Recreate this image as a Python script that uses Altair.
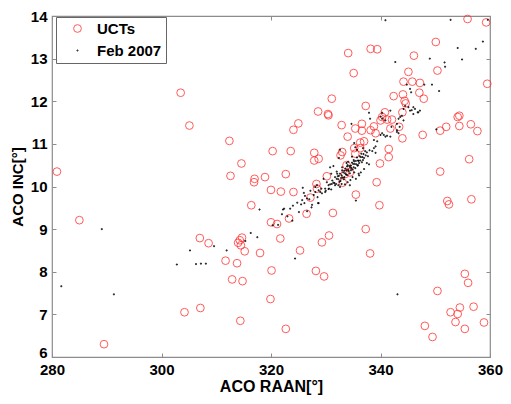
import altair as alt
import pandas as pd

# UCTs (red open circles): RAAN, INC
uct_raan = [280.9, 285.0, 289.5, 303.5, 305.1, 312.4, 314.6, 312.6, 317.0, 316.9,
            318.9, 320.0, 320.3, 321.8, 322.7, 316.4, 320.0, 321.1, 307.0, 308.6,
            311.7, 313.8, 314.0, 314.3, 314.7, 314.5, 315.2, 318.0, 320.1, 312.9,
            314.8, 304.2, 307.1, 314.4, 319.9, 324.1, 327.2, 335.5, 339.8, 352.5,
            356.6, 326.5, 331.3, 323.3, 321.7, 330.6, 329.3, 325.3, 337.3, 338.1,
            328.2, 329.7, 322.7, 348.1, 349.5, 350.4, 355.4, 356.0, 354.5, 352.8,
            354.1, 353.7, 357.0, 355.4, 358.9, 355.9, 359.3, 350.1, 346.1, 334.1,
            338.2, 339.4, 335.1, 345.1, 350.4, 359.5, 344.2, 345.8, 347.2, 342.4,
            344.1, 347.1, 347.9, 331.1, 344.6, 337.3, 328.6, 330.4, 330.5, 325.0,
            324.1, 344.0, 354.4, 354.1, 356.5, 357.7, 350.9, 352.0, 354.4, 347.7,
            332.9, 335.4, 336.6, 336.6, 334.0, 340.0, 341.2, 342.1, 338.8, 341.8,
            343.4, 344.0, 338.2, 339.1, 336.3, 337.0, 323.6, 327.9, 327.9, 328.7,
            333.0, 332.7, 341.5, 341.5, 339.9, 356.2, 350.9, 330.2, 333.8, 333.5,
            334.4, 328.3, 328.4, 339.3, 352.2, 340.8, 340.3, 344.4, 336.3, 335.2,
            335.4, 333.1]
uct_inc = [10.35, 9.21, 6.30, 12.20, 11.43, 11.07, 10.54, 10.25, 10.18, 10.10,
           10.22, 9.92, 10.83, 9.88, 10.29, 9.56, 9.16, 9.12, 8.79, 8.67,
           8.26, 8.20, 8.68, 8.74, 8.80, 8.62, 8.48, 8.44, 8.03, 7.82,
           7.78, 7.05, 7.15, 6.85, 7.36, 9.87, 9.74, 9.81, 9.56, 9.58,
           9.70, 9.36, 9.38, 9.25, 8.78, 8.85, 8.69, 8.50, 9.00, 8.43,
           8.02, 7.89, 6.66, 6.73, 6.47, 7.55, 7.95, 7.74, 7.16, 7.05,
           7.01, 6.82, 7.18, 6.66, 6.81, 13.93, 13.85, 13.39, 13.07, 13.13,
           13.23, 13.22, 12.66, 12.69, 12.72, 12.41, 12.46, 12.46, 12.43, 12.12,
           12.16, 12.20, 12.06, 12.06, 11.95, 11.89, 11.76, 11.70, 11.67, 11.48,
           11.33, 11.74, 11.66, 11.63, 11.46, 11.30, 11.31, 11.40, 11.42, 11.21,
           11.44, 11.36, 11.47, 11.31, 11.17, 11.55, 11.57, 11.57, 11.41, 11.36,
           11.40, 11.13, 11.32, 11.25, 11.03, 11.06, 10.83, 10.79, 10.61, 10.65,
           10.81, 10.73, 10.88, 10.69, 10.54, 10.64, 10.35, 10.24, 10.50, 10.29,
           10.33, 10.06, 9.95, 10.10, 9.66, 11.74, 11.63, 12.01, 10.90, 10.90,
           10.77, 10.09]

# Feb 2007 catalogue (black dots): RAAN, INC
feb_raan = [281.7, 289.1, 291.3, 302.8, 305.2, 306.3, 307.2, 308.1, 309.6, 311.9,
            315.3, 316.3, 317.5, 317.9, 320.3, 321.3, 322.2, 322.0, 324.4, 322.4,
            323.5, 323.0, 323.9, 325.1, 325.7, 326.6, 326.1, 327.5, 328.6, 327.4,
            326.6, 325.8, 328.1, 329.0, 329.9, 330.5, 331.1, 332.3, 332.9, 334.4,
            343.1, 335.5, 328.7,
            328.4, 328.7, 329.3, 329.9, 328.1, 329.6, 330.2, 331.7, 332.6, 334.0,
            334.9, 335.5, 336.1, 335.2, 331.4, 330.8, 332.4, 332.6, 335.2, 335.4,
            335.7, 338.8, 339.1, 340.0, 340.9, 338.5, 339.1, 337.9, 337.0, 336.4,
            330.5, 330.8, 331.0, 331.2, 331.4, 331.6, 331.7, 331.9, 332.0, 332.1,
            332.3, 332.4, 332.5, 332.6, 332.8, 332.9, 333.0, 333.1, 333.2, 333.3,
            333.4, 333.5, 333.6, 333.7, 333.8, 333.9, 334.0, 334.1, 334.2, 334.3,
            334.4, 334.5, 334.6, 334.7, 334.8, 334.9, 335.0, 335.1, 335.2, 335.3,
            335.4, 335.5, 335.6, 335.7, 335.8, 335.9, 336.0, 336.1, 336.2, 336.3,
            336.4, 336.6, 336.7, 336.9, 337.0, 337.2, 337.3, 337.5, 337.7, 338.0,
            332.2, 333.4, 334.6, 335.1, 336.5, 333.9, 332.7, 335.9, 334.1, 336.8,
            333.0, 334.5, 336.0, 333.8, 332.0, 336.8, 337.5, 334.8, 331.0, 333.5,
            324.0, 324.8, 325.5, 326.2, 327.0, 327.8, 328.5, 329.2, 330.0, 330.6,
            327.2, 326.0,
            337.9, 338.1, 340.0, 340.3, 340.9, 343.0, 343.5, 343.0, 344.2, 343.3,
            343.6, 343.9, 344.2, 344.5, 345.1, 345.4, 346.0, 346.3, 346.9, 347.2,
            343.0, 343.3, 340.3, 340.6, 341.2, 341.8, 339.4, 338.8, 340.3, 341.8,
            334.7, 342.0,
            342.7, 340.9, 352.8, 354.1, 354.9, 357.4, 358.7, 359.6, 351.7, 351.8,
            349.0, 349.4, 350.7, 348.0, 350.2, 345.4, 345.6, 344.8, 345.7, 346.8,
            346.0]
feb_inc = [7.66, 9.00, 7.47, 8.17, 8.50, 8.18, 8.19, 8.19, 8.60, 8.50,
           8.72, 8.91, 8.81, 9.46, 9.09, 9.10, 9.46, 9.35, 8.31, 9.48,
           9.48, 9.30, 9.20, 9.40, 9.68, 9.72, 9.61, 9.57, 9.61, 9.51,
           9.42, 9.97, 9.87, 9.87, 9.95, 10.03, 10.06, 10.03, 10.06, 10.03,
           7.47, 9.67, 9.61,
           10.03, 9.91, 9.84, 9.87, 9.99, 10.18, 10.10, 10.03, 9.99, 10.10,
           10.22, 10.18, 10.26, 10.33, 10.48, 10.45, 10.67, 10.86, 11.02, 10.92,
           10.86, 11.09, 10.94, 11.21, 11.17, 10.83, 10.79, 10.52, 10.41, 10.33,
           9.94, 10.05, 9.93, 10.14, 10.09, 10.08, 10.22, 10.06, 10.18, 10.30,
           10.17, 10.25, 10.11, 10.30, 10.20, 10.26, 10.38, 10.21, 10.33, 10.17,
           10.37, 10.31, 10.42, 10.28, 10.38, 10.27, 10.50, 10.39, 10.36, 10.48,
           10.31, 10.45, 10.49, 10.43, 10.56, 10.40, 10.53, 10.45, 10.59, 10.53,
           10.43, 10.60, 10.52, 10.68, 10.49, 10.61, 10.60, 10.55, 10.71, 10.61,
           10.69, 10.57, 10.69, 10.76, 10.67, 10.83, 10.73, 10.80, 10.71, 10.85,
           10.24, 10.22, 10.38, 10.62, 10.77, 10.47, 10.13, 10.50, 10.58, 10.62,
           10.45, 10.15, 10.30, 10.55, 10.35, 10.90, 10.55, 10.70, 10.30, 10.05,
           9.55, 9.62, 9.58, 9.78, 9.70, 9.80, 9.75, 9.95, 9.90, 9.95,
           9.90, 9.85,
           11.73, 11.59, 11.64, 11.59, 11.55, 11.47, 11.40, 11.32, 11.55, 11.59,
           11.63, 11.66, 11.82, 11.89, 11.86, 11.78, 11.86, 11.82, 11.74, 11.78,
           11.28, 11.25, 11.25, 11.21, 11.19, 11.17, 11.06, 10.90, 11.73, 11.78,
           11.47, 11.40,
           12.92, 13.90, 13.91, 13.25, 12.98, 13.23, 13.40, 13.91, 12.91, 12.81,
           13.00, 12.39, 12.24, 12.39, 11.34, 12.29, 12.21, 12.39, 11.79, 11.74,
           11.70]

series_names = ["UCTs", "Feb 2007"]
x_ticks = [280, 300, 320, 340, 360]
y_ticks = [6, 7, 8, 9, 10, 11, 12, 13, 14]

uct_df = pd.DataFrame({"raan": uct_raan, "inc": uct_inc, "series": series_names[0]})
feb_df = pd.DataFrame({"raan": feb_raan, "inc": feb_inc, "series": series_names[1]})

FONT = "Liberation Sans"
GRAY = "#8c8c8c"

xscale = alt.Scale(domain=[280, 360], nice=False)
yscale = alt.Scale(domain=[6, 14], nice=False)

color = alt.Color("series:N",
                  scale=alt.Scale(domain=series_names, range=["#ff3333", "#000000"]),
                  legend=alt.Legend(title=None, orient="none", legendX=4, legendY=1,
                                    labelFont=FONT, labelFontSize=15, labelFontWeight="bold",
                                    labelColor="black", strokeColor="#666666", fillColor="white",
                                    padding=4, rowPadding=6, symbolOffset=10, labelOffset=12,
                                    symbolStrokeWidth=1))
shape = alt.Shape("series:N", scale=alt.Scale(domain=series_names, range=["circle", "square"]))
size = alt.Size("series:N", scale=alt.Scale(domain=series_names, range=[60, 1]))

x_bottom = alt.Axis(orient="bottom", values=x_ticks, offset=-4, tickSize=4, domain=False,
                    grid=False, tickColor=GRAY, labelFont=FONT, labelFontSize=15,
                    labelFontWeight="bold", labelColor="black", labelPadding=5,
                    labelFlush=False, labelOverlap=False,
                    title="ACO RAAN[°]", titleFont=FONT, titleFontSize=16,
                    titleFontWeight="bold", titleColor="black", titlePadding=1)
y_left = alt.Axis(orient="left", values=y_ticks, offset=-4, tickSize=4, domain=False,
                  grid=False, tickColor=GRAY, labelFont=FONT, labelFontSize=15,
                  labelFontWeight="bold", labelColor="black", labelPadding=5,
                  labelFlush=False, labelOverlap=False,
                  labelOffset={"condition": {"test": "datum.value == 6", "value": -5}, "value": 0},
                  title="ACO INC[°]", titleFont=FONT, titleFontSize=15,
                  titleFontWeight="bold", titleColor="black", titlePadding=5)
x_top = alt.Axis(orient="top", values=x_ticks, offset=-4, tickSize=4, domain=False,
                 grid=False, tickColor=GRAY, labels=False, title=None)
y_right = alt.Axis(orient="right", values=y_ticks, offset=-4, tickSize=4, domain=False,
                   grid=False, tickColor=GRAY, labels=False, title=None)

uct_layer = alt.Chart(uct_df).mark_point(filled=False, strokeWidth=1, opacity=0.8).encode(
    x=alt.X("raan:Q", scale=xscale, axis=x_bottom),
    y=alt.Y("inc:Q", scale=yscale, axis=y_left),
    color=color, shape=shape, size=size,
)
feb_layer = alt.Chart(feb_df).mark_point(filled=False, strokeWidth=1, opacity=0.9).encode(
    x=alt.X("raan:Q", scale=xscale, axis=x_top),
    y=alt.Y("inc:Q", scale=yscale, axis=y_right),
    color=color, shape=shape, size=size,
)

chart = alt.layer(uct_layer, feb_layer).resolve_axis(
    x="independent", y="independent"
).properties(
    width=438, height=341,
    autosize=alt.AutoSizeParams(type="none"),
    padding={"left": 44, "top": 8, "right": 13, "bottom": 39},
    background="white",
).configure_view(stroke=GRAY, strokeWidth=1.2)

chart.save("out.html", embed_options={"renderer": "svg", "actions": False})
